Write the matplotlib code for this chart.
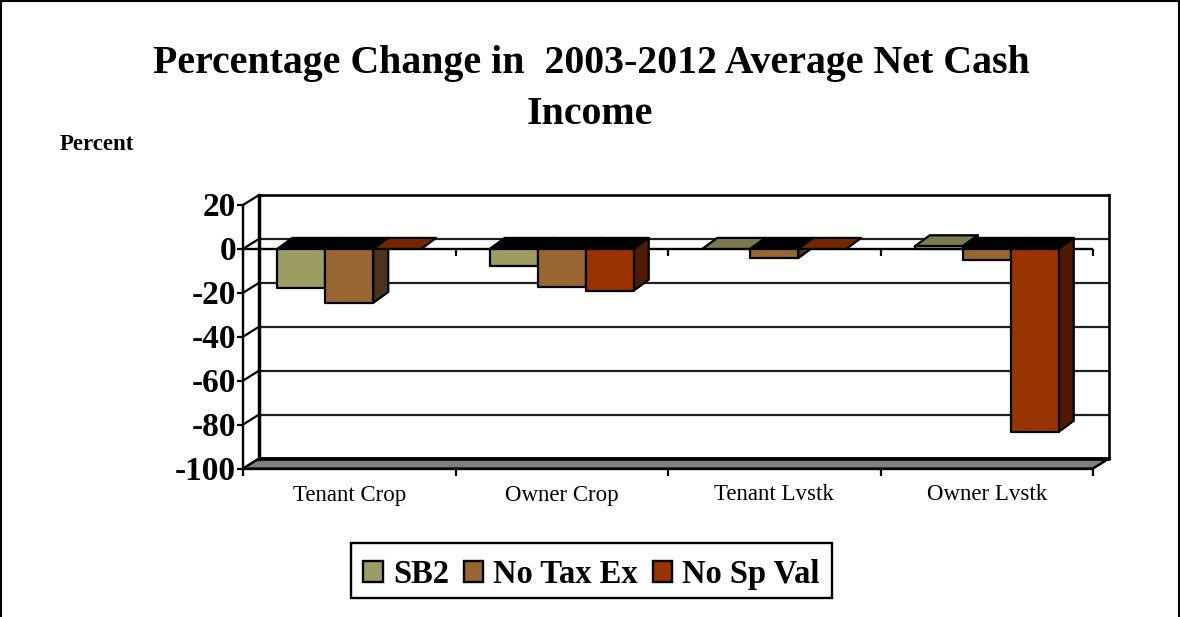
import matplotlib
matplotlib.use("Agg")
import matplotlib.pyplot as plt
from matplotlib.patches import Polygon, Patch, Rectangle
from matplotlib.transforms import Affine2D
import numpy as np

categories = ["Tenant Crop", "Owner Crop", "Tenant Lvstk", "Owner Lvstk"]
series_names = ["SB2", "No Tax Ex", "No Sp Val"]
sb2 = [-17.9, -7.8, 0, 1.2]
no_tax_ex = [-24.6, -17.2, -4.2, -5.0]
no_sp_val = [0, -19.0, 0, -83.3]
y_ticks = [20, 0, -20, -40, -60, -80, -100]
front_colors = ["#9C9C64", "#996633", "#993300"]
top_colors = ["#7A7A4E", "#7A5028", "#722600"]
side_colors = ["#4F4F32", "#4D3319", "#4F1A00"]
title_lines = ["Percentage Change in  2003-2012 Average Net Cash", "Income"]

W, H = 1180, 617
plt.rcParams["font.family"] = ["Liberation Serif", "DejaVu Serif"]
fig = plt.figure(figsize=(W / 100, H / 100), dpi=100, facecolor="white")

# plot frame, front plane, in pixels
L, R, T, B = 243, 1093, 205, 468.5
ax = fig.add_axes([L / W, 1 - B / H, (R - L) / W, (B - T) / H])
ax.set_xlim(0, 4)
ax.set_ylim(-100, 20)
ax.axis("off")

back = ax.transData + Affine2D().translate(16, 10)   # wall depth
LW = 1.7  # points


def line(xs, ys, tr=None, lw=LW, color="black", z=2, cap="butt"):
    ax.plot(xs, ys, color=color, lw=lw, transform=tr or ax.transData,
            clip_on=False, zorder=z, solid_capstyle=cap)


def pline(p, q, lw=1.6, z=2):
    ax.plot([p[0], q[0]], [p[1], q[1]], color="black", lw=lw, transform=None,
            clip_on=False, zorder=z, solid_capstyle="butt")


# floor
pts_front = ax.transData.transform([(0, -100), (4, -100)])
pts_back = back.transform([(4, -100), (0, -100)])
floor = Polygon(np.vstack([pts_front, pts_back]), closed=True, transform=None,
                facecolor="#808080", edgecolor="black", lw=1.5, zorder=1, clip_on=False,
                joinstyle="round")
ax.add_patch(floor)

# back wall gridlines and frame
for v in y_ticks[1:-1]:
    line([0, 4], [v, v], back, lw=1.6, color="#202020", z=1.5)
line([0, 0], [-100, 20], back, lw=2.5, cap="projecting")
line([0, 4], [20, 20], back, lw=1.9, cap="projecting")
line([4, 4], [-100, 20], back, lw=1.9, cap="projecting")
line([0, 4], [-100, -100], back, lw=2.6)

# side wall depth lines, axis lines, ticks
line([0, 0], [-100, 20], cap="projecting")
for v in y_ticks:
    a = ax.transData.transform((0, v))
    b = back.transform((0, v))
    pline(a, b)
    pline((a[0] - 6, a[1]), a)
    ax.text(a[0] - 7, a[1] - 3, f"{v}", transform=None, ha="right", va="center",
            fontsize=24, fontweight="bold", zorder=5)
pline(ax.transData.transform((4, -100)), back.transform((4, -100)))

line([0, 4], [-100, -100])
line([0, 4], [0, 0], z=2.5)
for i in range(5):
    for v in (0, -100):
        p = ax.transData.transform((i, v))
        pline(p, (p[0], p[1] - 7), z=2.5)

# category labels
for i, c in enumerate(categories):
    ax.annotate(c, xy=(i + 0.5, -100), xytext=(0, -32), textcoords="offset pixels",
                ha="center", va="baseline", fontsize=16.5, zorder=5, annotation_clip=False)

# bars
values = [sb2, no_tax_ex, no_sp_val]
bw = 48 / 212.5
d = np.array([15, 11])
for g in range(4):
    for s in range(3):
        v = values[s][g]
        x0 = g + 0.5 + (s - 1.5) * bw
        x1 = x0 + bw
        f = ax.transData.transform([(x0, 0), (x1, 0), (x1, v), (x0, v)])
        if v <= 0:
            top = np.array([f[0], f[1], f[1] + d, f[0] + d])
            tc = "black" if v < 0 else top_colors[s]
        else:
            top = np.array([f[3], f[2], f[2] + d, f[3] + d])
            tc = top_colors[s]
        z = 3 + g * 0.1 + s * 0.01
        style = dict(closed=True, transform=None, edgecolor="black", lw=1.6,
                     zorder=z, clip_on=False, joinstyle="round")
        ax.add_patch(Polygon(top, facecolor=tc, **style))
        if v != 0:
            side = np.array([f[1], f[2], f[2] + d, f[1] + d])
            ax.add_patch(Polygon(side, facecolor=side_colors[s], **style))
            ax.add_patch(Polygon(f, facecolor=front_colors[s], **style))

# titles
fig.text(591.5 / W, 1 - 64 / H, title_lines[0], ha="center", va="center", fontsize=28.7, fontweight="bold")
fig.text(590 / W, 1 - 115 / H, title_lines[1], ha="center", va="center", fontsize=28.7, fontweight="bold")
fig.text(60 / W, 1 - 145 / H, "Percent", ha="left", va="center", fontsize=16.5, fontweight="bold")

# legend frame and legend
fig.add_artist(Rectangle((351 / W, 1 - 597.5 / H), 481 / W, 54.5 / H, transform=fig.transFigure,
                         facecolor="white", edgecolor="black", lw=1.7))
handles = [Patch(facecolor=c, edgecolor="black", lw=1.7) for c in front_colors]
leg = fig.legend(handles, series_names, loc="center", bbox_to_anchor=(591.5 / W, 1 - 574.5 / H), ncol=3,
                 frameon=False,
                 prop={"weight": "bold", "size": 23.5}, handlelength=0.6, handleheight=0.6,
                 handletextpad=0.3, columnspacing=0.46, borderpad=0.37, borderaxespad=0)

# outer border (open at the bottom, running off the image)
fig.add_artist(Rectangle((1 / W, -0.02), (W - 2) / W, 1.0184, transform=fig.transFigure, fill=False,
                         edgecolor="black", lw=1.5))

fig.savefig("out.png", dpi=100)
